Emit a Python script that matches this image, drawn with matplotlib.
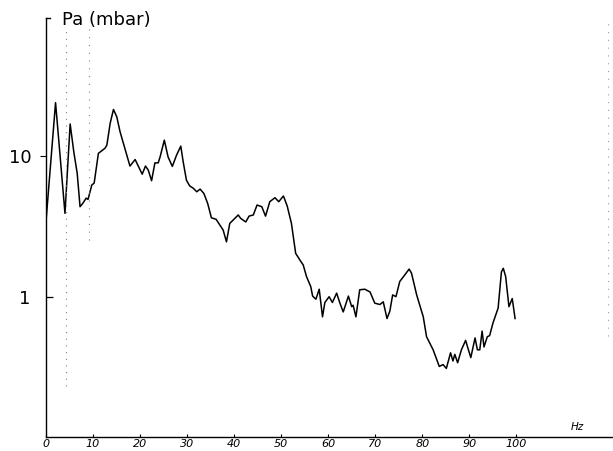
import matplotlib
matplotlib.use("Agg")
import matplotlib.pyplot as plt

# spectrum of pressure amplitude
freq_hz = [0.0, 2.1, 4.1, 5.2, 6.0, 6.7, 7.3, 7.9, 8.6, 9.0, 9.8, 10.3, 10.8, 11.2,
           12.6, 13.0, 13.7, 14.4, 15.1, 15.8, 16.8, 17.9, 19.0, 19.7, 20.5, 21.2,
           21.8, 22.5, 23.2, 23.9, 24.3, 25.2, 26.0, 26.9, 27.8, 28.7, 29.2, 29.9,
           30.6, 31.3, 32.1, 32.8, 33.6, 34.4, 35.2, 36.2, 37.0, 37.7, 38.4, 39.1,
           40.2, 40.9, 41.4, 42.5, 43.2, 44.1, 44.9, 45.9, 46.7, 47.6, 48.7, 49.5,
           50.5, 51.3, 52.2, 53.1, 54.0, 54.7, 55.4, 56.3, 56.7, 57.4, 58.1, 58.8,
           59.3, 60.2, 60.9, 61.8, 62.5, 63.2, 64.3, 65.0, 65.3, 65.9, 66.7, 67.8,
           68.9, 69.9, 71.0, 71.7, 72.5, 73.1, 73.7, 74.4, 75.2, 76.3, 77.2, 77.7,
           78.8, 80.2, 80.9, 82.3, 83.6, 84.4, 85.1, 86.0, 86.5, 86.9, 87.5, 88.3,
           89.2, 89.7, 90.3, 91.2, 91.7, 92.2, 92.7, 93.1, 93.8, 94.3, 95.0, 96.1,
           96.8, 97.2, 97.7, 98.4, 99.1, 99.7]
pa_mbar = [3.2, 23.8, 3.9, 16.8, 10.5, 7.5, 4.35, 4.6, 5.0, 4.9, 6.2, 6.4, 8.4, 10.4,
           11.3, 11.9, 17.0, 21.3, 18.9, 14.8, 11.3, 8.45, 9.4, 8.4, 7.4, 8.45,
           7.9, 6.65, 8.9, 8.9, 9.8, 12.9, 9.8, 8.4, 10.1, 11.7, 9.1, 6.7,
           6.1, 5.9, 5.55, 5.8, 5.4, 4.6, 3.63, 3.54, 3.22, 2.97, 2.45, 3.31,
           3.6, 3.8, 3.6, 3.39, 3.73, 3.8, 4.47, 4.35, 3.73, 4.72, 5.04, 4.72,
           5.18, 4.4, 3.31, 2.03, 1.82, 1.68, 1.39, 1.18, 1.01, 0.96, 1.13, 0.72,
           0.91, 1.0, 0.91, 1.06, 0.90, 0.78, 1.01, 0.85, 0.87, 0.72, 1.12, 1.13,
           1.08, 0.90, 0.88, 0.92, 0.70, 0.79, 1.03, 1.0, 1.28, 1.43, 1.57, 1.47,
           1.03, 0.72, 0.52, 0.42, 0.32, 0.33, 0.31, 0.40, 0.35, 0.39, 0.34, 0.42,
           0.49, 0.43, 0.37, 0.51, 0.42, 0.42, 0.57, 0.44, 0.52, 0.53, 0.65, 0.83,
           1.5, 1.59, 1.39, 0.85, 0.97, 0.70]

x_ticks = [0, 10, 20, 30, 40, 50, 60, 70, 80, 90, 100]
x_tick_labels = [str(t) for t in x_ticks]
y_major = [10]
y_major_labels = ["10"]
y_minor = [1]
y_minor_labels = ["1"]
dotted_marks_hz = [4.3, 9.3, 119.4]

fig = plt.figure(figsize=(6.13, 4.51), dpi=100)
ax = fig.add_axes([0.0745, 0.0317, 0.9255, 0.9283])

ax.plot(freq_hz, pa_mbar, color="black", lw=1.1)

# faint dotted verticals of the recording paper
ax.axvline(dotted_marks_hz[0], ymin=0.12, ymax=0.97, color="0.5", lw=0.8,
           ls=(0, (1, 5)))
ax.axvline(dotted_marks_hz[1], ymin=0.47, ymax=0.99, color="0.5", lw=0.8,
           ls=(0, (1, 6)))
ax.axvline(dotted_marks_hz[2], ymin=0.24, ymax=0.99, color="0.6", lw=0.8,
           ls=(0, (1, 6)))

ax.set_yscale("log")
ax.set_xlim(0, 120.5)
ax.set_ylim(0.1016, 94.8)

ax.spines["top"].set_visible(False)
ax.spines["right"].set_visible(False)
ax.spines["left"].set_linewidth(1.0)
ax.spines["bottom"].set_linewidth(1.0)
# little hook at the top of the pressure axis
ax.plot([0, 0.008], [1, 1], transform=ax.transAxes, color="black", lw=1.0,
        clip_on=False)

ax.set_xticks(x_ticks, labels=x_tick_labels)
ax.tick_params(axis="x", direction="in", length=2.5, width=0.8, pad=2,
               labelsize=8)
for lbl in ax.get_xticklabels():
    lbl.set_fontstyle("italic")

ax.set_yticks(y_major, labels=y_major_labels)
ax.set_yticks(y_minor, labels=y_minor_labels, minor=True)
ax.tick_params(axis="y", which="major", direction="out", length=4, width=0.8,
               pad=6, labelsize=13)
ax.tick_params(axis="y", which="minor", direction="in", length=5, width=0.9,
               pad=11, labelsize=13)

fig.text(62 / 613, 1 - 25 / 451, "Pa (mbar)", fontsize=13, va="baseline",
         ha="left")
fig.text(577 / 613, 1 - 427 / 451, "Hz", fontsize=7.5, fontstyle="italic",
         ha="center", va="center")

fig.savefig("out.png", dpi=100)
